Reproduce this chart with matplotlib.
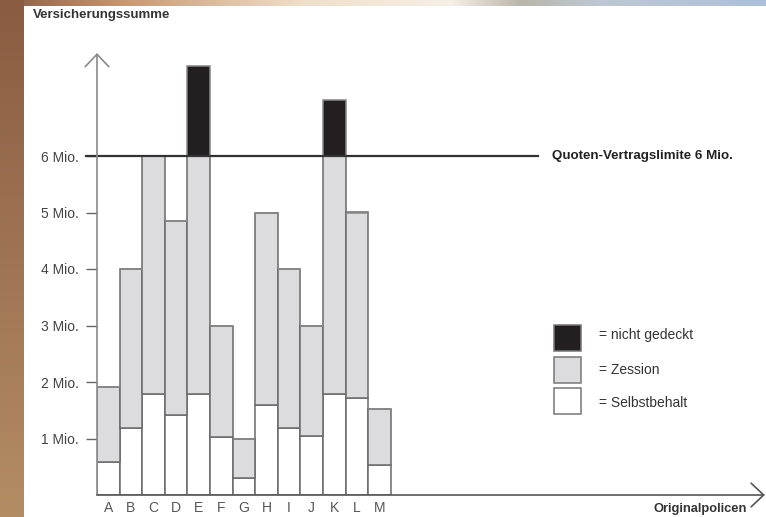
import numpy as np
import matplotlib.pyplot as plt
from matplotlib.patches import Rectangle

plt.rcParams['font.family'] = ['Liberation Sans', 'DejaVu Sans']

# policies A..M, amounts in Mio.
policen = list('ABCDEFGHIJKLM')
summe = [1.91, 4.0, 6.0, 4.85, 7.6, 3.0, 1.0, 5.0, 4.0, 3.0, 7.0, 5.0, 1.52]
selbstbehalt = [0.58, 1.18, 1.78, 1.42, 1.78, 1.03, 0.30, 1.60, 1.18, 1.04, 1.78, 1.72, 0.53]
limite = 6.0
y_ticks = [1, 2, 3, 4, 5, 6]
y_labels = ['1 Mio.', '2 Mio.', '3 Mio.', '4 Mio.', '5 Mio.', '6 Mio.']

summe = np.array(summe)
selbstbehalt = np.array(selbstbehalt)
gedeckt = np.minimum(summe, limite)
zession = gedeckt - selbstbehalt
nicht_gedeckt = np.maximum(summe - limite, 0)

W, H = 766, 517
fig = plt.figure(figsize=(W / 100, H / 100), dpi=100)

# slide background: brown strip on the left, coloured band at the top
bg = fig.add_axes([0, 0, 1, 1])
bg.set_xlim(0, W)
bg.set_ylim(H, 0)
bg.axis('off')
stops_x = [0, 120, 300, 450, 520, 600, 766]
stops_c = np.array([[138, 92, 66], [200, 150, 110], [240, 222, 200], [246, 240, 230],
                    [185, 182, 170], [190, 200, 212], [172, 192, 220]]) / 255
xs = np.arange(W)
top = np.stack([np.interp(xs, stops_x, stops_c[:, k]) for k in range(3)], axis=-1)
bg.imshow(top[None, :, :], extent=[0, W, 7, 0], aspect='auto')
ys = np.linspace(0, 1, 200)
c0 = np.array([138, 92, 66]) / 255
c1 = np.array([180, 140, 100]) / 255
left = (c0[None, :] * (1 - ys[:, None]) + c1[None, :] * ys[:, None])
bg.imshow(left[:, None, :], extent=[0, 24, H, 0], aspect='auto')
bg.add_patch(Rectangle((24, 6), W - 24, H - 6, facecolor='white', edgecolor='none'))

# chart area in pixel terms
x0, y0 = 97, 495
px_bar = 22.6
px_mio = 56.5
ax = fig.add_axes([x0 / W, (H - y0) / H, (W - x0) / W, (y0 - 53) / H])
ax.patch.set_alpha(0)
ax.set_xlim(0, (W - x0) / px_bar)
ax.set_ylim(0, (y0 - 53) / px_mio)
for s in ax.spines.values():
    s.set_visible(False)

pos = np.arange(len(policen)) + 0.5
edge = '#6a6a6a'
ax.bar(pos, selbstbehalt, width=1, color='white', edgecolor=edge, linewidth=1.1, zorder=2)
ax.bar(pos, zession, width=1, bottom=selbstbehalt, color='#dcdcde', edgecolor=edge,
       linewidth=1.1, zorder=2)
ax.bar(pos, nicht_gedeckt, width=1, bottom=gedeckt, color='#231f20', edgecolor='#888888',
       linewidth=1.1, zorder=2)

ax.set_xticks(pos)
ax.set_xticklabels(policen, fontsize=10, color='#555555')
ax.tick_params(axis='x', length=0, pad=4)
ax.set_yticks(y_ticks)
ax.set_yticklabels(y_labels, fontsize=10, color='#444444')
ax.tick_params(axis='y', length=8, width=1, color='#666666', pad=5)

# treaty limit line
ax.plot([-11 / px_bar, (538 - x0) / px_bar], [limite, limite], color='#333333', lw=1.6,
        clip_on=False, zorder=3)
ax.text((552 - x0) / px_bar, limite, 'Quoten-Vertragslimite 6 Mio.', fontsize=9.6,
        fontweight='bold', color='#222222', va='center', ha='left')

# axes with open arrow heads
ymax = ax.get_ylim()[1]
xmax = ax.get_xlim()[1]
ax.annotate('', xy=(0, ymax), xytext=(0, 0),
            arrowprops=dict(arrowstyle='->,head_length=0.9,head_width=0.85', color='#8a8a8a',
                            lw=1.2, shrinkA=0, shrinkB=0, mutation_scale=10),
            annotation_clip=False, zorder=4)
ax.annotate('', xy=(xmax - 0.05, 0), xytext=(0, 0),
            arrowprops=dict(arrowstyle='->,head_length=0.9,head_width=0.85', color='#555555',
                            lw=1.2, shrinkA=0, shrinkB=0, mutation_scale=10),
            annotation_clip=False, zorder=4)

fig.text(33 / W, 1 - 15 / H, 'Versicherungssumme', fontsize=9.5, fontweight='bold',
         color='#333333', ha='left', va='center')
fig.text(747 / W, 1 - 509 / H, 'Originalpolicen', fontsize=9.3, fontweight='bold',
         color='#333333', ha='right', va='center')

# legend boxes
legend = [('#231f20', '= nicht gedeckt', 338, 335), ('#dcdcde', '= Zession', 370, 370),
          ('white', '= Selbstbehalt', 401, 403)]
for col, txt, yc, yt in legend:
    bg.add_patch(Rectangle((554, yc - 13), 27, 26, facecolor=col, edgecolor='#777777',
                           linewidth=1.1, zorder=5))
    bg.text(599, yt, txt, fontsize=10, color='#333333', va='center', ha='left',
            zorder=5)

fig.savefig('out.png', dpi=100)
